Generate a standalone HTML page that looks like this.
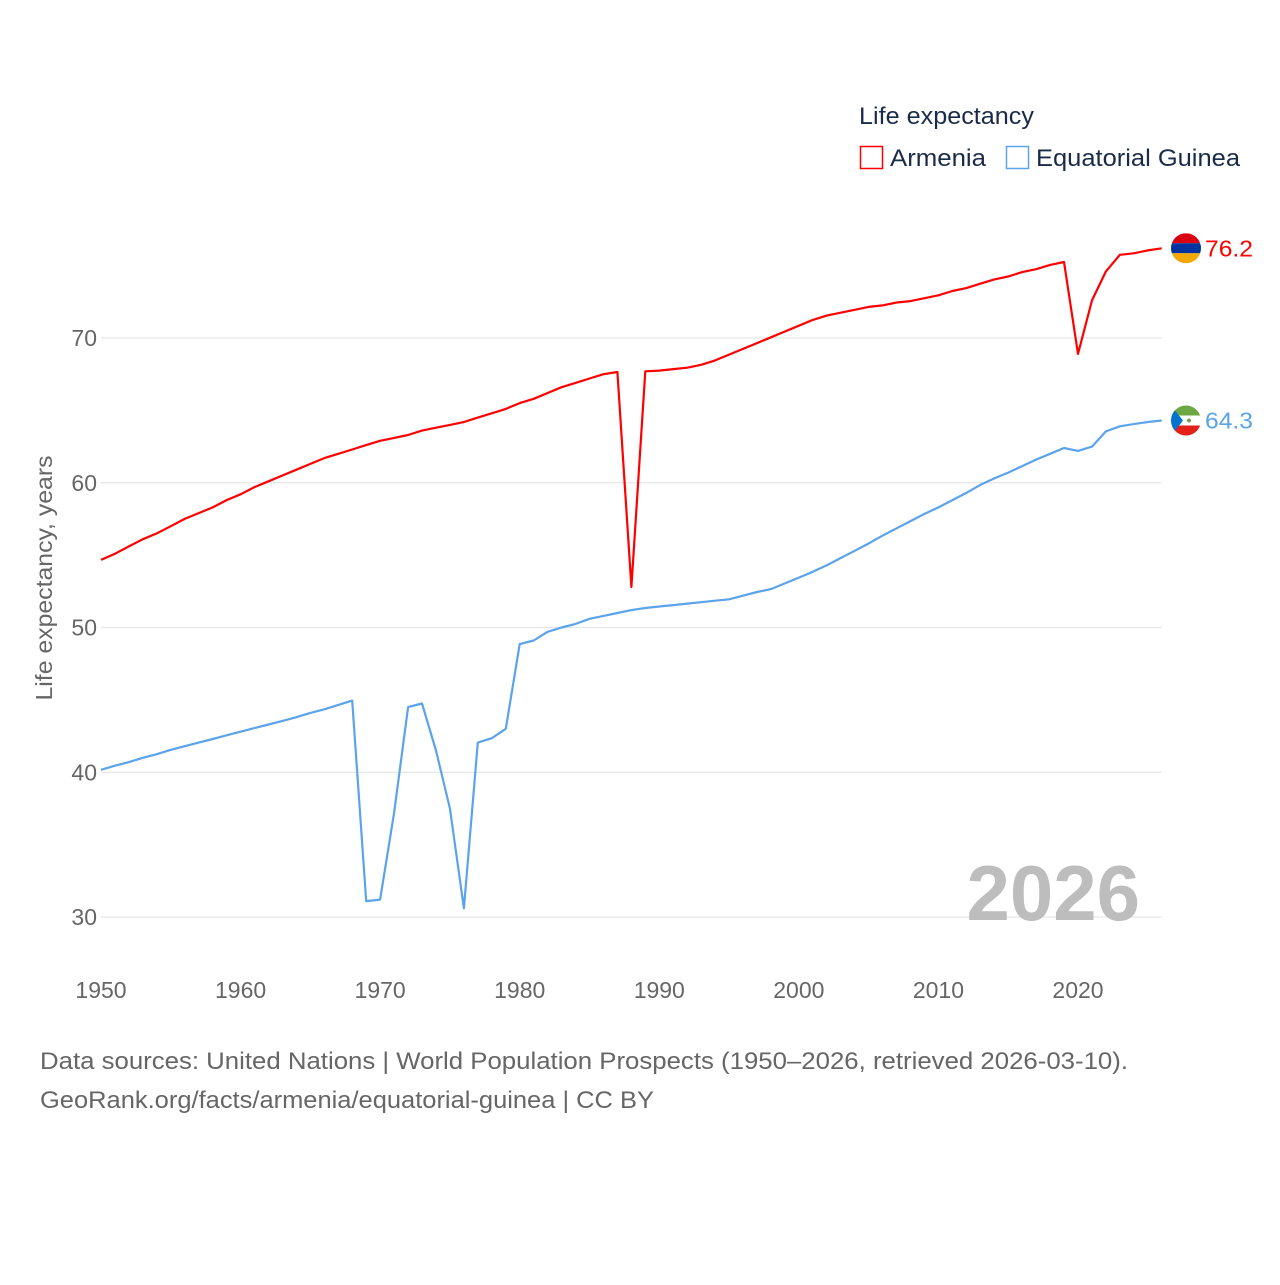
<!DOCTYPE html>
<html><head><meta charset="utf-8"><style>
body{margin:0;background:#fff;font-family:"Liberation Sans",sans-serif}
</style></head><body>
<svg width="1280" height="1280" viewBox="0 0 1280 1280" xmlns="http://www.w3.org/2000/svg" font-family="Liberation Sans, sans-serif">
<rect width="1280" height="1280" fill="#fff"/>
<g id="grid"></g>
<g id="yticks" fill="#666" font-size="23" text-anchor="end"></g>
<g id="xticks" fill="#666" font-size="23" text-anchor="middle"></g>
<text x="52" y="578" transform="rotate(-90 52 578)" text-anchor="middle" fill="#666" font-size="23" textLength="245" lengthAdjust="spacingAndGlyphs">Life expectancy, years</text>
<text x="1140" y="920" text-anchor="end" fill="#bdbdbd" font-size="78" font-weight="bold">2026</text>
<g id="lines"></g>
<g>
<text x="859" y="124" fill="#1a2b4a" font-size="24" textLength="175" lengthAdjust="spacingAndGlyphs">Life expectancy</text>
<g><rect x="860.5" y="146.5" width="22" height="22" fill="none" stroke="#ff0000" stroke-width="1.5"/><text x="890" y="166" fill="#1a2b4a" font-size="24" textLength="96" lengthAdjust="spacingAndGlyphs">Armenia</text></g>
<g><rect x="1006.5" y="146.5" width="22" height="22" fill="none" stroke="#5ba3ea" stroke-width="1.5"/><text x="1036" y="166" fill="#1a2b4a" font-size="24" textLength="204" lengthAdjust="spacingAndGlyphs">Equatorial Guinea</text></g>
</g>
<g id="ends"></g>
<text x="40" y="1069" fill="#666" font-size="24" textLength="1088" lengthAdjust="spacingAndGlyphs">Data sources: United Nations | World Population Prospects (1950–2026, retrieved 2026-03-10).</text>
<text x="40" y="1108" fill="#666" font-size="24" textLength="614" lengthAdjust="spacingAndGlyphs">GeoRank.org/facts/armenia/equatorial-guinea | CC BY</text>
</svg>
<script>
const yTicks=[30,40,50,60,70];
const xTicks=[1950,1960,1970,1980,1990,2000,2010,2020];
const startYear=1950;
const armenia=[54.67,55.1,55.6,56.1,56.5,57.0,57.5,57.9,58.3,58.8,59.2,59.7,60.1,60.5,60.9,61.3,61.7,62.0,62.3,62.6,62.9,63.1,63.3,63.6,63.8,64.0,64.2,64.5,64.8,65.1,65.5,65.8,66.2,66.6,66.9,67.2,67.5,67.65,52.8,67.7,67.75,67.85,67.95,68.15,68.45,68.85,69.25,69.65,70.05,70.45,70.85,71.25,71.55,71.75,71.95,72.15,72.25,72.45,72.55,72.75,72.95,73.25,73.45,73.75,74.05,74.25,74.55,74.75,75.05,75.25,68.9,72.6,74.6,75.75,75.85,76.05,76.2];
const eqGuinea=[40.17,40.45,40.7,41.0,41.25,41.55,41.8,42.05,42.3,42.55,42.8,43.05,43.3,43.55,43.8,44.1,44.35,44.65,44.95,31.1,31.2,37.2,44.5,44.75,41.5,37.5,30.6,42.05,42.35,43.0,48.85,49.1,49.7,50.0,50.25,50.6,50.8,51.0,51.2,51.35,51.45,51.55,51.65,51.75,51.85,51.95,52.2,52.45,52.65,53.05,53.45,53.85,54.3,54.8,55.3,55.8,56.35,56.85,57.35,57.85,58.3,58.8,59.3,59.85,60.3,60.7,61.15,61.6,62.0,62.4,62.2,62.5,63.55,63.9,64.05,64.2,64.3];
const NS="http://www.w3.org/2000/svg";
function X(yr){return 101+(yr-1950)*(1078-101)/70;}
function Y(v){return 338+(70-v)*(917-338)/40;}
function mk(t,a,p){const e=document.createElementNS(NS,t);for(const k in a)e.setAttribute(k,a[k]);p.appendChild(e);return e;}
const grid=document.getElementById('grid'),yt=document.getElementById('yticks'),xt=document.getElementById('xticks');
yTicks.forEach(v=>{
 const l=mk('line',{x1:101,x2:1162,y1:Y(v),y2:Y(v),stroke:'#e6e6e6','stroke-width':1.3},grid);
 
 
 const t=mk('text',{x:97,y:Y(v)+8},yt);t.textContent=v;
 
 
});
xTicks.forEach(yr=>{
 const t=mk('text',{x:X(yr),y:998},xt);t.textContent=yr;
 
 
});
const lines=document.getElementById('lines');
function draw(arr,color,name){
 const pts=arr.map((v,i)=>X(startYear+i).toFixed(1)+','+Y(v).toFixed(1)).join(' ');
 const p=mk('polyline',{points:pts,fill:'none',stroke:color,'stroke-width':2.2,'stroke-linejoin':'round'},lines);
 
 
}
draw(eqGuinea,'#5ba3ea','line-equatorial-guinea');
draw(armenia,'#ff0000','line-armenia');
const ends=document.getElementById('ends');
function endLabel(arr,color,name,flag){
 const v=arr[arr.length-1],cx=1186,cy=Y(v);
 const g=mk('g',{},ends);
 
 
 const cid='c'+name;
 const cp=mk('clipPath',{id:cid},g);mk('circle',{cx:cx,cy:cy,r:15},cp);
 const fg=mk('g',{'clip-path':'url(#'+cid+')'},g);
 flag(fg,cx,cy);
 const t=mk('text',{x:1205,y:cy+8,fill:color,'font-size':23,textLength:48,lengthAdjust:'spacingAndGlyphs'},g);t.textContent=v.toFixed(1);
}
endLabel(armenia,'#ff0000','end-label-armenia',(g,cx,cy)=>{
 mk('rect',{x:cx-15,y:cy-15,width:30,height:10,fill:'#d90012'},g);
 mk('rect',{x:cx-15,y:cy-5,width:30,height:10,fill:'#0033a0'},g);
 mk('rect',{x:cx-15,y:cy+5,width:30,height:10,fill:'#f2a800'},g);
});
endLabel(eqGuinea,'#5ba3ea','end-label-equatorial-guinea',(g,cx,cy)=>{
 mk('rect',{x:cx-15,y:cy-15,width:30,height:10,fill:'#6ca743'},g);
 mk('rect',{x:cx-15,y:cy-5,width:30,height:10,fill:'#fff'},g);
 mk('rect',{x:cx-15,y:cy+5,width:30,height:10,fill:'#e32118'},g);
 mk('polygon',{points:(cx-15)+','+(cy-15)+' '+(cx-3)+','+cy+' '+(cx-15)+','+(cy+15),fill:'#0073ce'},g);
 mk('circle',{cx:cx+3,cy:cy,r:2,fill:'#6ca743'},g);
});
</script>
</body></html>
